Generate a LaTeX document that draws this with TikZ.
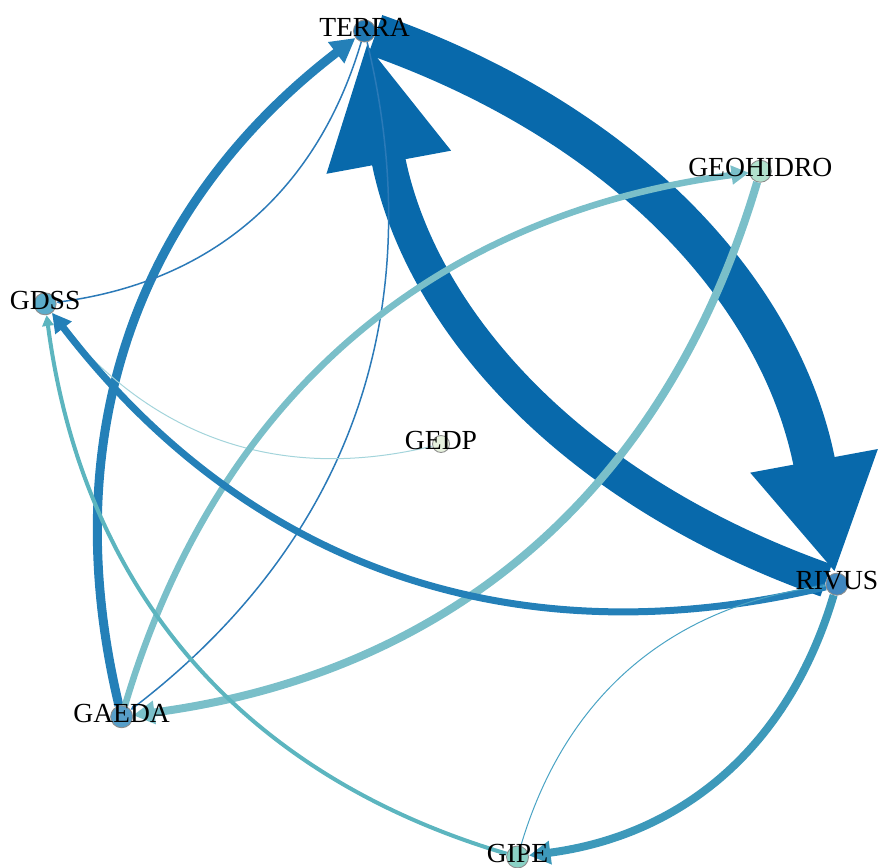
\documentclass[tikz,border=0pt]{standalone}
\usepackage{fontspec}
\setmainfont{Liberation Serif}
\usepackage{tikz}
\usetikzlibrary{arrows.meta}
\definecolor{deepblue}{rgb}{0.03, 0.41, 0.67}
\definecolor{midblue}{rgb}{0.14, 0.50, 0.72}
\definecolor{thinblue}{rgb}{0.17, 0.48, 0.72}
\definecolor{paleteal}{rgb}{0.48, 0.75, 0.79}
\definecolor{aqua}{rgb}{0.36, 0.71, 0.75}
\definecolor{ocean}{rgb}{0.24, 0.60, 0.73}
\definecolor{skyblue}{rgb}{0.29, 0.64, 0.77}
\definecolor{mist}{rgb}{0.64, 0.83, 0.86}
\definecolor{mint}{rgb}{0.66, 0.87, 0.78}
\definecolor{sprout}{rgb}{0.89, 0.94, 0.85}
\definecolor{lagoon}{rgb}{0.49, 0.80, 0.75}
\tikzset {
        vertex/.style={circle, inner sep=0pt, minimum size=0.44cm, draw=black!45, line width=0.5pt, fill opacity=0.9},
        lbl/.style={inner sep=0pt, yshift=0.07cm, font=\fontsize{15.7}{18}\selectfont, text=black},
        flow/.style={bend left=33, -{Triangle[length=0pt 2.7, width=0pt 2.8]}}
}
\begin{document}
\begin{tikzpicture}
            \useasboundingbox (-8.82,-8.48) rectangle (8.74,8.88);
            \coordinate (Hub) at (0,0);
            \node[vertex, fill=deepblue] (Terra) at (100.5:8.4) {};
            \node[vertex, fill=mint] (Geohidro) at (40.5:8.4) {};
            \node[vertex, fill=thinblue] (Rivus) at (-19.5:8.4) {};
            \node[vertex, fill=lagoon] (Gipe) at (-79.5:8.4) {};
            \node[vertex, fill=midblue!85!white] (Gaeda) at (220.5:8.4) {};
            \node[vertex, fill=skyblue] (Gdss) at (160.5:8.4) {};
            \node[vertex, fill=sprout, minimum size=0.34cm] (Gedp) at (Hub) {};

            \draw[flow] (Terra) edge [deepblue, line width=0.84cm, bend left=30, -{Triangle[length=2.28cm, width=2.42cm]}] (Rivus);
            \draw[flow] (Rivus) edge [deepblue, line width=0.68cm, bend left=30, -{Triangle[length=2.44cm, width=2.34cm]}] (Terra);
            \draw[flow] (Gaeda) edge [midblue, line width=0.18cm] (Terra);
            \draw[flow] (Terra) edge [thinblue, line width=0.03cm] (Gdss);
            \draw[flow] (Terra) edge [thinblue, line width=0.03cm] (Gaeda);
            \draw[flow] (Gedp) edge [mist, line width=0.02cm] (Gdss);
            \draw[flow] (Gaeda) edge [paleteal, line width=0.13cm] (Geohidro);
            \draw[flow] (Geohidro) edge [paleteal, line width=0.16cm] (Gaeda);
            \draw[flow] (Rivus) edge [midblue, line width=0.14cm] (Gdss);
            \draw[flow] (Gipe) edge [aqua, line width=0.08cm] (Gdss);
            \draw[flow] (Rivus) edge [ocean, line width=0.16cm] (Gipe);
            \draw[flow] (Gipe) edge [skyblue, line width=0.02cm] (Rivus);

            \node[lbl] (TerraLabel) at (Terra) {TERRA};
            \node[lbl] (GeohidroLabel) at (Geohidro) {GEOHIDRO};
            \node[lbl] (RivusLabel) at (Rivus) {RIVUS};
            \node[lbl] (GipeLabel) at (Gipe) {GIPE};
            \node[lbl] (GaedaLabel) at (Gaeda) {GAEDA};
            \node[lbl] (GdssLabel) at (Gdss) {GDSS};
            \node[lbl] (GedpLabel) at (Gedp) {GEDP};
        \end{tikzpicture}
\end{document}
